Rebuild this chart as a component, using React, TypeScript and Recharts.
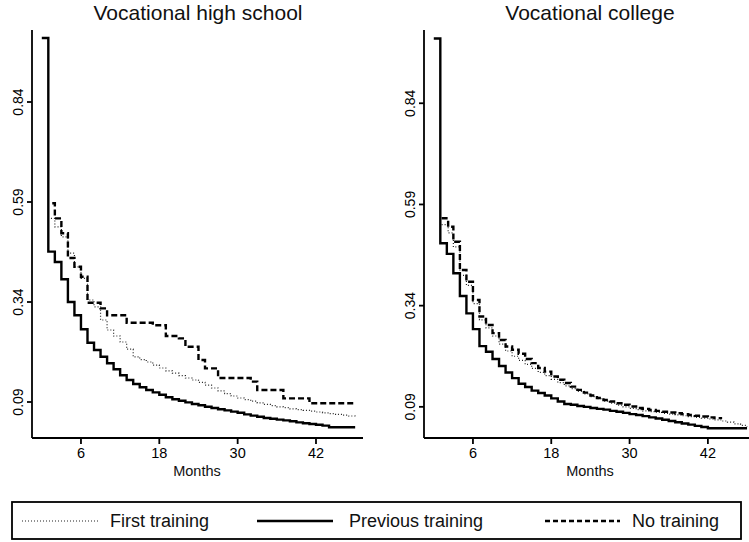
import { LineChart, Line, XAxis, YAxis } from 'recharts';

const xTicks = [6, 18, 30, 42];
const yTicks = [0.09, 0.34, 0.59, 0.84];

// Vocational high school
const hsPrevMonths = [0, 1, 2, 3, 4, 5, 6, 7, 8, 9, 10, 11, 12, 13, 14, 15, 16, 17, 18, 19, 20, 21, 22, 23, 24, 25, 26, 27, 28, 29, 30, 31, 32, 33, 34, 35, 36, 37, 38, 39, 40, 41, 42, 43, 44, 45, 46, 47, 48];
const hsPrev = [1.0, 0.466, 0.44, 0.397, 0.34, 0.307, 0.272, 0.238, 0.22, 0.203, 0.187, 0.172, 0.157, 0.145, 0.135, 0.127, 0.12, 0.114, 0.108, 0.102, 0.097, 0.093, 0.089, 0.085, 0.082, 0.078, 0.075, 0.072, 0.069, 0.066, 0.063, 0.059, 0.056, 0.053, 0.05, 0.048, 0.046, 0.044, 0.042, 0.039, 0.037, 0.035, 0.033, 0.031, 0.027, 0.027, 0.027, 0.027, 0.027];

const hsFirstMonths = [1.4, 2, 3, 4, 5, 6, 7, 8, 9, 10, 11, 12, 13, 14, 15, 16, 17, 18, 19, 20, 21, 22, 23, 24, 25, 26, 27, 28, 29, 30, 31, 32, 33, 34, 35, 36, 37, 38, 39, 40, 41, 42, 43, 44, 45, 46, 47, 48];
const hsFirst = [0.549, 0.528, 0.503, 0.462, 0.428, 0.399, 0.345, 0.328, 0.295, 0.27, 0.255, 0.24, 0.222, 0.203, 0.196, 0.19, 0.182, 0.175, 0.168, 0.162, 0.156, 0.15, 0.145, 0.139, 0.132, 0.125, 0.118, 0.111, 0.105, 0.1, 0.096, 0.092, 0.088, 0.084, 0.081, 0.078, 0.076, 0.073, 0.071, 0.069, 0.067, 0.065, 0.063, 0.061, 0.059, 0.057, 0.055, 0.053];

const hsNoMonths = [1.6, 2, 3, 4, 5, 6, 7, 8, 9, 10, 11, 12, 13, 14, 15, 16, 17, 18, 19, 20, 21, 22, 23, 24, 25, 26, 27, 28, 29, 30, 31, 32, 33, 34, 35, 36, 37, 38, 39, 40, 41, 42, 43, 44, 45, 46, 47, 48];
const hsNo = [0.587, 0.549, 0.512, 0.45, 0.428, 0.403, 0.338, 0.338, 0.324, 0.307, 0.307, 0.307, 0.288, 0.288, 0.288, 0.288, 0.282, 0.282, 0.255, 0.255, 0.249, 0.228, 0.228, 0.195, 0.174, 0.174, 0.15, 0.15, 0.15, 0.15, 0.15, 0.141, 0.12, 0.12, 0.12, 0.12, 0.099, 0.099, 0.099, 0.099, 0.087, 0.087, 0.087, 0.087, 0.087, 0.087, 0.087, 0.087];

// Vocational college
const vcPrevMonths = [0, 1, 2, 3, 4, 5, 6, 7, 8, 9, 10, 11, 12, 13, 14, 15, 16, 17, 18, 19, 20, 21, 22, 23, 24, 25, 26, 27, 28, 29, 30, 31, 32, 33, 34, 35, 36, 37, 38, 39, 40, 41, 42, 43, 44, 45, 46, 47, 48];
const vcPrev = [1.0, 0.494, 0.468, 0.42, 0.364, 0.321, 0.282, 0.24, 0.226, 0.208, 0.191, 0.175, 0.161, 0.147, 0.139, 0.13, 0.124, 0.118, 0.111, 0.103, 0.097, 0.095, 0.092, 0.09, 0.087, 0.085, 0.083, 0.08, 0.078, 0.075, 0.072, 0.07, 0.067, 0.064, 0.061, 0.058, 0.055, 0.052, 0.049, 0.046, 0.043, 0.04, 0.037, 0.037, 0.037, 0.037, 0.037, 0.037, 0.037];

const vcFirstMonths = [1.2, 2.2, 3, 4, 5, 6, 7, 8, 9, 10, 11, 12, 13, 14, 15, 16, 17, 18, 19, 20, 21, 22, 23, 24, 25, 26, 27, 28, 29, 30, 31, 32, 33, 34, 35, 36, 37, 38, 39, 40, 41, 42, 43, 44, 45, 46, 47, 48];
const vcFirst = [0.54, 0.52, 0.485, 0.415, 0.39, 0.345, 0.305, 0.285, 0.265, 0.245, 0.228, 0.215, 0.205, 0.195, 0.185, 0.175, 0.167, 0.158, 0.15, 0.142, 0.135, 0.128, 0.122, 0.115, 0.11, 0.104, 0.099, 0.094, 0.09, 0.086, 0.083, 0.08, 0.078, 0.076, 0.074, 0.072, 0.07, 0.068, 0.066, 0.064, 0.062, 0.06, 0.058, 0.055, 0.052, 0.048, 0.044, 0.041];

const vcNoMonths = [1.2, 2.2, 3, 4, 5, 6, 7, 8, 9, 10, 11, 12, 13, 14, 15, 16, 17, 18, 19, 20, 21, 22, 23, 24, 25, 26, 27, 28, 29, 30, 31, 32, 33, 34, 35, 36, 37, 38, 39, 40, 41, 42, 43, 44];
const vcNo = [0.556, 0.535, 0.498, 0.428, 0.399, 0.354, 0.313, 0.292, 0.272, 0.255, 0.239, 0.231, 0.221, 0.208, 0.198, 0.186, 0.177, 0.165, 0.157, 0.149, 0.14, 0.132, 0.125, 0.118, 0.112, 0.107, 0.103, 0.099, 0.095, 0.091, 0.087, 0.085, 0.082, 0.08, 0.078, 0.076, 0.074, 0.072, 0.07, 0.068, 0.066, 0.064, 0.062, 0.06];

const FONT = '"Liberation Sans", Arial, sans-serif';

function toPoints(months: number[], values: number[]) {
  return months.map((m, i) => ({ m, v: values[i] }));
}

function XTick(props: any) {
  const { x, y, payload } = props;
  return (
    <text x={x} y={y + 12} textAnchor="middle" fontSize={14.5} fontFamily={FONT} fill="#000">
      {payload.value}
    </text>
  );
}

function YTick(props: any) {
  const { x, y, payload } = props;
  const bx = x - 2;
  return (
    <text x={bx} y={y} transform={`rotate(-90 ${bx} ${y})`} textAnchor="middle" fontSize={14} fontFamily={FONT} fill="#000">
      {payload.value.toFixed(2)}
    </text>
  );
}

interface PanelProps {
  width: number;
  right: number;
  xMax: number;
  yDomain: [number, number];
  prev: { m: number; v: number }[];
  first: { m: number; v: number }[];
  no: { m: number; v: number }[];
}

function Panel({ width, right, xMax, yDomain, prev, first, no }: PanelProps) {
  return (
    <LineChart width={width} height={480} margin={{ top: 30, right, bottom: 0, left: 0 }}>
      <XAxis
        type="number"
        dataKey="m"
        domain={[-1.5, xMax]}
        ticks={xTicks}
        allowDataOverflow
        height={42}
        tickSize={6}
        tickMargin={2}
        axisLine={{ stroke: '#000', strokeWidth: 1.8 }}
        tickLine={{ stroke: '#000', strokeWidth: 1.8 }}
        tick={<XTick />}
      />
      <YAxis
        type="number"
        dataKey="v"
        domain={yDomain}
        ticks={yTicks}
        allowDataOverflow
        width={32}
        tickSize={5}
        tickMargin={2}
        axisLine={{ stroke: '#000', strokeWidth: 1.8 }}
        tickLine={{ stroke: '#000', strokeWidth: 1.8 }}
        tick={<YTick />}
      />
      <Line data={first} dataKey="v" type="stepAfter" stroke="#222" strokeWidth={1.2} strokeDasharray="1 2" dot={false} isAnimationActive={false} />
      <Line data={no} dataKey="v" type="stepAfter" stroke="#000" strokeWidth={2.4} strokeDasharray="6 3" dot={false} isAnimationActive={false} />
      <Line data={prev} dataKey="v" type="stepAfter" stroke="#000" strokeWidth={2.4} dot={false} isAnimationActive={false} />
    </LineChart>
  );
}

export default function App() {
  return (
    <div style={{ position: 'absolute', left: 0, top: 0, width: 749, height: 542, background: '#fff', overflow: 'hidden' }}>
      <div style={{ position: 'absolute', left: 0, top: 0 }}>
        <Panel width={380} right={17} xMax={49.2} yDomain={[0, 1.02]}
          prev={toPoints(hsPrevMonths, hsPrev)} first={toPoints(hsFirstMonths, hsFirst)} no={toPoints(hsNoMonths, hsNo)} />
      </div>
      <div style={{ position: 'absolute', left: 392, top: 0 }}>
        <Panel width={357} right={0} xMax={48.3} yDomain={[0.013, 1.021]}
          prev={toPoints(vcPrevMonths, vcPrev)} first={toPoints(vcFirstMonths, vcFirst)} no={toPoints(vcNoMonths, vcNo)} />
      </div>
      <svg width={749} height={542} style={{ position: 'absolute', left: 0, top: 0, pointerEvents: 'none' }}>
        <g fontFamily={FONT} fill="#111">
          <text x={198} y={20} textAnchor="middle" fontSize={21}>Vocational high school</text>
          <text x={590} y={20} textAnchor="middle" fontSize={21}>Vocational college</text>
          <text x={197} y={476} textAnchor="middle" fontSize={14.5}>Months</text>
          <text x={590} y={476} textAnchor="middle" fontSize={14.5}>Months</text>
        </g>
        <rect x={12} y={502} width={729} height={37} fill="none" stroke="#000" strokeWidth={1.8} />
        <line x1={22} x2={98} y1={521} y2={521} stroke="#222" strokeWidth={1.2} strokeDasharray="1 2" />
        <line x1={257} x2={333} y1={521} y2={521} stroke="#000" strokeWidth={2.4} />
        <line x1={545} x2={620} y1={521} y2={521} stroke="#000" strokeWidth={2.4} strokeDasharray="5 3" />
        <g fontFamily={FONT} fontSize={18} fill="#111">
          <text x={110} y={527}>First training</text>
          <text x={349} y={527}>Previous training</text>
          <text x={632} y={527}>No training</text>
        </g>
      </svg>
    </div>
  );
}
